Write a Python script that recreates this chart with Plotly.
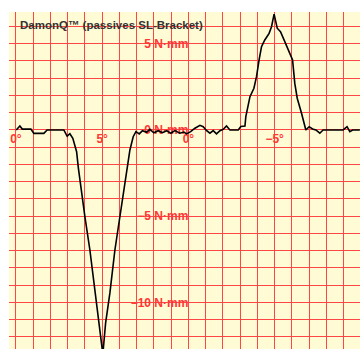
import plotly.graph_objects as go

# Linear sweep position (0..20) mapped to angle 0°→5°→0°→−5°→0°
sweep = [0.02, 0.23, 0.37, 0.87, 1.04, 1.62, 1.81, 2.78, 2.97, 3.13, 3.30, 3.52, 3.62, 3.81,
         4.00, 4.29, 4.58, 4.83, 5.04, 5.20, 5.45, 5.74, 6.03, 6.32, 6.61, 6.80, 6.96,
         7.15, 7.34, 7.58, 7.77, 8.00, 8.25, 8.50, 8.74, 8.97, 9.22, 9.51, 9.74, 9.90,
         10.13, 10.38, 10.67, 10.86, 11.06, 11.25, 11.44, 11.63, 11.83, 12.02, 12.21,
         12.41, 12.89, 13.04, 13.28, 13.33, 13.57, 13.80, 13.95, 14.10, 14.24, 14.43,
         14.68, 14.82, 14.97, 15.15, 15.34, 15.59, 15.84, 16.04, 16.17, 16.31, 16.56,
         16.81, 17.00, 17.20, 17.39, 17.62, 17.81, 18.97, 19.20, 19.36, 19.52, 19.94]
torque = [0.0, 0.23, 0.05, 0.05, -0.20, -0.20, 0.0, 0.0, -0.36, -0.22, -0.48, -1.26, -2.20, -3.65,
          -5.02, -6.96, -9.45, -11.40, -13.00, -11.20, -9.45, -6.96, -5.02, -3.07, -1.16, -0.39, -0.10,
          -0.23, -0.04, -0.13, 0.04, -0.16, -0.04, -0.16, -0.04, -0.19, -0.04, -0.19, -0.12, -0.23,
          -0.10, 0.10, 0.27, 0.19, -0.04, -0.19, -0.04, -0.23, -0.04, 0.04, 0.23,
          0.0, 0.0, 0.20, 0.23, 0.77, 1.93, 2.42, 3.09, 4.06, 4.83, 5.22,
          5.60, 5.99, 6.72, 5.90, 5.70, 5.12, 4.54, 4.06, 2.70, 1.84, 0.97,
          0.0, 0.19, 0.06, 0.0, -0.19, 0.0, 0.0, 0.19, -0.10, 0.0, 0.0]

x_tickvals = [0, 5, 10, 15, 20]
x_ticktext = ["0°", "5°", "0°", "−5°", "0°"]
y_tickvals = [5, 0, -5, -10]
y_ticktext = ["5 N·mm", "0 N·mm", "−5 N·mm", "−10 N·mm"]
title_text = "DamonQ™ (passives SL-Bracket)"

x_range = [-0.4, 19.95]
y_range = [-12.70, 6.84]

# grid every 1 unit: labelled ticks get text, others blank
x_grid = list(range(0, 21))
x_grid_text = [x_ticktext[x_tickvals.index(v)] if v in x_tickvals else "" for v in x_grid]
y_grid = list(range(-12, 7))
y_grid_text = [y_ticktext[y_tickvals.index(v)] if v in y_tickvals else "" for v in y_grid]

grid_col = "rgb(255,70,70)"
lab_col = "rgb(255,55,55)"

fig = go.Figure()
fig.add_trace(go.Scatter(x=sweep, y=torque, mode="lines",
                         line=dict(color="black", width=1.6), hoverinfo="skip"))

x_pos = (0 - y_range[0]) / (y_range[1] - y_range[0])
y_pos = (10 - x_range[0]) / (x_range[1] - x_range[0])

tfont = dict(family="Liberation Sans, Arial", size=12, color=lab_col, weight="bold")

fig.update_layout(
    width=360, height=349,
    margin=dict(l=9, r=0, t=12, b=0, autoexpand=False),
    paper_bgcolor="white",
    plot_bgcolor="rgb(255,251,212)",
    showlegend=False,
    xaxis=dict(range=x_range, tickmode="array", tickvals=x_grid, ticktext=x_grid_text,
               showgrid=True, gridcolor=grid_col, gridwidth=1,
               zeroline=False, showline=False, ticks="", automargin=False,
               anchor="free", position=x_pos, layer="below traces",
               tickfont=tfont, fixedrange=True),
    yaxis=dict(range=y_range, tickmode="array", tickvals=y_grid, ticktext=y_grid_text,
               showgrid=True, gridcolor=grid_col, gridwidth=1,
               zeroline=False, showline=False, ticks="", automargin=False,
               anchor="free", position=y_pos, layer="below traces",
               tickfont=tfont, fixedrange=True),
    annotations=[dict(text=title_text, xref="paper", yref="paper", x=0.026, y=0.985,
                      xanchor="left", yanchor="top", showarrow=False,
                      font=dict(family="Liberation Sans, Arial", size=11.5, color="#333333",
                                weight="bold"))],
)

fig.write_html("out.html", config={"displayModeBar": False},
               post_script="document.body.style.margin='0';document.body.style.overflow='hidden';")
